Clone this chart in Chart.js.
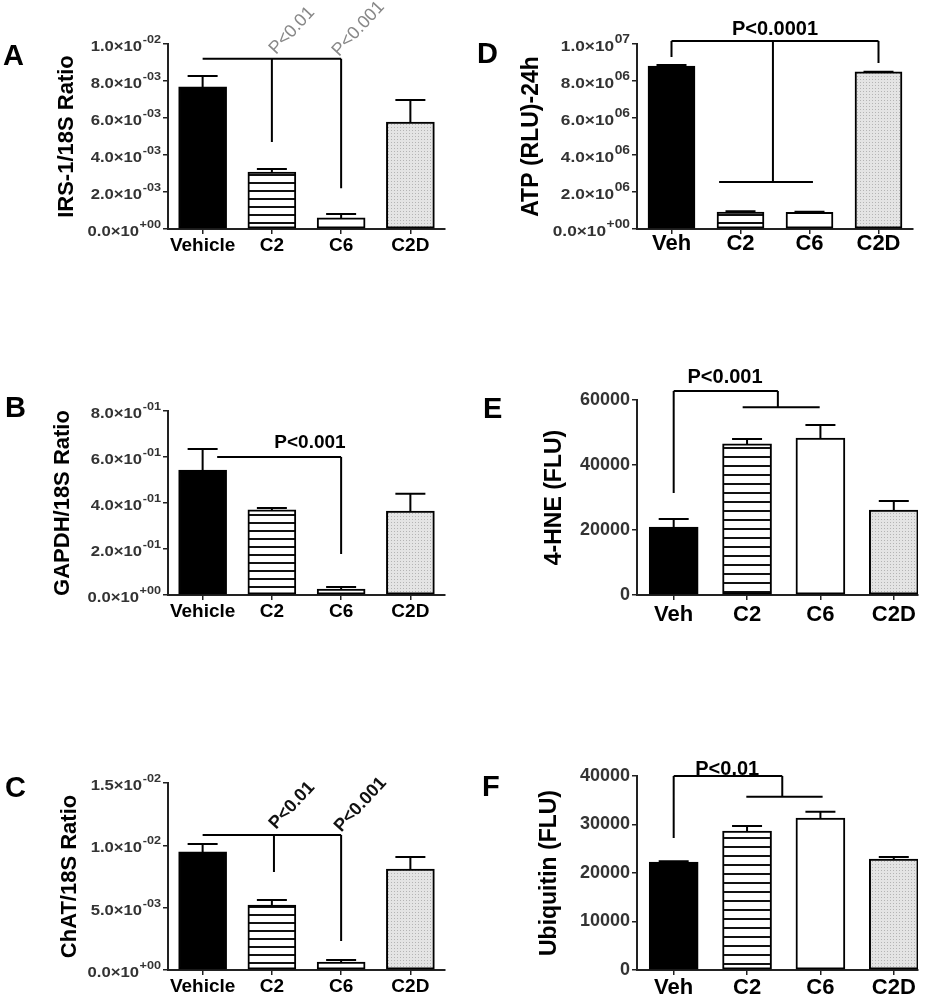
<!DOCTYPE html>
<html>
<head>
<meta charset="utf-8">
<script src="https://cdn.jsdelivr.net/npm/chart.js@4.4.1/dist/chart.umd.min.js"></script>
<style>
  html, body { margin: 0; background: #fff; }
  #fig { position: relative; width: 934px; height: 1000px; overflow: hidden; }
  #fig canvas { position: absolute; }
</style>
</head>
<body>
<div id="fig"></div>
<script>
const groupsLong = ['Vehicle', 'C2', 'C6', 'C2D'];
const groupsShort = ['Veh', 'C2', 'C6', 'C2D'];

// A
const irsMean = [0.00768, 0.00308, 0.00060, 0.00578];
const irsErr = [0.00059, 0.00016, 0.00021, 0.00119];
const irsTicks = ['0.0×10^+00', '2.0×10^-03', '4.0×10^-03', '6.0×10^-03', '8.0×10^-03', '1.0×10^-02'];
const irsBrackets = [[0, 0.0092, 2, 0.0092], [1, 0.0092, 1, 0.0047], [2, 0.0092, 2, 0.0022]];
const irsNotes = [['P<0.01', 1.06, 0.0094], ['P<0.001', 1.97, 0.0093]];

// B
const gapdhMean = [0.543, 0.370, 0.026, 0.365];
const gapdhErr = [0.092, 0.008, 0.009, 0.075];
const gapdhTicks = ['0.0×10^+00', '2.0×10^-01', '4.0×10^-01', '6.0×10^-01', '8.0×10^-01'];
const gapdhBrackets = [[0.21, 0.6, 2, 0.6], [2, 0.6, 2, 0.178]];
const gapdhNotes = [['P<0.001', 1.55, 0.639]];

// C
const chatMean = [0.00947, 0.00521, 0.00064, 0.0081];
const chatErr = [0.00063, 0.0004, 0.00016, 0.00096];
const chatTicks = ['0.0×10^+00', '5.0×10^-03', '1.0×10^-02', '1.5×10^-02'];
const chatBrackets = [[0, 0.01083, 2, 0.01083], [1.03, 0.01083, 1.03, 0.00786], [2, 0.01083, 2, 0.00233]];
const chatNotes = [['P<0.01', 1.06, 0.01123], ['P<0.001', 2.0, 0.0110]];

// D
const atpMean = [8810000, 920000, 900000, 8490000];
const atpErr = [50000, 40000, 30000, 10000];
const atpTicks = ['0.0×10^+00', '2.0×10^06', '4.0×10^06', '6.0×10^06', '8.0×10^06', '1.0×10^07'];
const atpBrackets = [[0, 1.016e7, 3, 1.016e7], [0, 1.016e7, 0, 9.3e6], [3, 1.016e7, 3, 8.97e6],
  [1.47, 1.016e7, 1.47, 2.54e6], [0.69, 2.54e6, 2.05, 2.54e6]];
const atpNotes = [['P<0.0001', 1.5, 1.049e7]];

// E
const hneMean = [20900, 46500, 48300, 26100];
const hneErr = [2500, 1500, 4000, 2800];
const hneTicks = ['0', '20000', '40000', '60000'];
const hneBrackets = [[0, 31400, 0, 62800], [0, 62800, 1.42, 62800], [1.42, 62800, 1.42, 57800], [0.94, 57800, 1.99, 57800]];
const hneNotes = [['P<0.001', 0.7, 65230]];

// F
const ubqMean = [22270, 28660, 31340, 22890];
const ubqErr = [150, 1050, 1300, 400];
const ubqTicks = ['0', '10000', '20000', '30000', '40000'];
const ubqBrackets = [[0, 27200, 0, 40000], [0, 40000, 1.48, 40000], [1.48, 40000, 1.48, 35700], [0.99, 35700, 2.03, 35700]];
const ubqNotes = [['P<0.01', 0.73, 40200]];

const FONT = "'Liberation Sans', Arial, Helvetica, sans-serif";

const panels = [
  { letter: 'A', left: 0, top: 0, w: 460, h: 270, pad: [54, 44, 15], yW: 114, xH: 41, xMax: 3.5, bar: 48,
    title: 'IRS-1/18S Ratio', titleSize: 22, tickSize: 14.5, expSize: 11, labelSize: 19, labelPad: 0, letterAt: [3, 65],
    cats: groupsLong, mean: irsMean, err: irsErr, ticks: irsTicks, yMax: 0.01, step: 0.002,
    brackets: irsBrackets, notes: irsNotes, noteRot: -47, noteFont: '18px ' + FONT, noteColor: '#888', stripe: 8 },
  { letter: 'B', left: 0, top: 380, w: 460, h: 255, pad: [50, 31, 15], yW: 118, xH: 40, xMax: 3.5, bar: 48,
    title: 'GAPDH/18S Ratio', titleSize: 22, tickSize: 14.5, expSize: 11, labelSize: 19, labelPad: 0, letterAt: [5, 37],
    cats: groupsLong, mean: gapdhMean, err: gapdhErr, ticks: gapdhTicks, yMax: 0.8, step: 0.2,
    brackets: gapdhBrackets, notes: gapdhNotes, noteRot: 0, noteFont: 'bold 19px ' + FONT, noteColor: '#000', stripe: 8 },
  { letter: 'C', left: 0, top: 740, w: 460, h: 260, pad: [57, 43, 15], yW: 111, xH: 30, xMax: 3.5, bar: 48,
    title: 'ChAT/18S Ratio', titleSize: 22, tickSize: 14.5, expSize: 11, labelSize: 19, labelPad: 0, letterAt: [5, 57],
    cats: groupsLong, mean: chatMean, err: chatErr, ticks: chatTicks, yMax: 0.015, step: 0.005,
    brackets: chatBrackets, notes: chatNotes, noteRot: -47, noteFont: 'bold 18px ' + FONT, noteColor: '#111', stripe: 8 },
  { letter: 'D', left: 460, top: 0, w: 474, h: 270, pad: [58, 44, 21], yW: 119, xH: 41, xMax: 3.5, bar: 47,
    title: 'ATP (RLU)-24h', titleSize: 23, tickSize: 15, expSize: 12, labelSize: 22, labelPad: -3, letterAt: [17, 63],
    cats: groupsShort, mean: atpMean, err: atpErr, ticks: atpTicks, yMax: 1e7, step: 2e6,
    brackets: atpBrackets, notes: atpNotes, noteRot: 0, noteFont: 'bold 20px ' + FONT, noteColor: '#000', stripe: 8 },
  { letter: 'E', left: 460, top: 350, w: 474, h: 290, pad: [81, 50, 16], yW: 96, xH: 45, xMax: 3.33, bar: 49,
    title: '4-HNE (FLU)', titleSize: 23, tickSize: 18, expSize: 12, labelSize: 22, labelPad: 2, letterAt: [23, 68],
    cats: groupsShort, mean: hneMean, err: hneErr, ticks: hneTicks, yMax: 60000, step: 20000,
    brackets: hneBrackets, notes: hneNotes, noteRot: 0, noteFont: 'bold 20px ' + FONT, noteColor: '#000', stripe: 9 },
  { letter: 'F', left: 460, top: 740, w: 474, h: 260, pad: [76, 36, 16], yW: 101, xH: 30, xMax: 3.33, bar: 49,
    title: 'Ubiquitin (FLU)', titleSize: 23, tickSize: 18, expSize: 12, labelSize: 22, labelPad: 0, letterAt: [22, 56],
    cats: groupsShort, mean: ubqMean, err: ubqErr, ticks: ubqTicks, yMax: 40000, step: 10000,
    brackets: ubqBrackets, notes: ubqNotes, noteRot: 0, noteFont: 'bold 20px ' + FONT, noteColor: '#000', stripe: 9 },
];

function stripePattern(ctx, size) {
  const t = document.createElement('canvas');
  t.width = 8; t.height = size;
  const g = t.getContext('2d');
  g.fillStyle = '#fff'; g.fillRect(0, 0, 8, size);
  g.fillStyle = '#111'; g.fillRect(0, size - 2, 8, 2);
  return ctx.createPattern(t, 'repeat');
}

function dotPattern(ctx) {
  const t = document.createElement('canvas');
  t.width = 3; t.height = 3;
  const g = t.getContext('2d');
  g.fillStyle = '#e4e4e4'; g.fillRect(0, 0, 3, 3);
  g.fillStyle = '#b4b4b4'; g.fillRect(1, 1, 1, 1);
  return ctx.createPattern(t, 'repeat');
}

// error bars, brackets, p-value notes, scientific tick labels and panel letter
function marks(p) {
  return {
    id: 'marks' + p.letter,
    afterDatasetsDraw(chart) {
      const { ctx, scales: { x, y } } = chart;
      const px = (v) => x.getPixelForValue(v);
      const py = (v) => y.getPixelForValue(v);
      ctx.save();
      ctx.strokeStyle = '#000';
      ctx.lineWidth = 2;
      ctx.beginPath();
      chart.getDatasetMeta(0).data.forEach((bar, i) => {
        const top = py(p.mean[i] + p.err[i]);
        ctx.moveTo(bar.x, bar.y);
        ctx.lineTo(bar.x, top);
        ctx.moveTo(bar.x - 15, top);
        ctx.lineTo(bar.x + 15, top);
      });
      p.brackets.forEach(([x1, y1, x2, y2]) => {
        ctx.moveTo(px(x1), py(y1));
        ctx.lineTo(px(x2), py(y2));
      });
      ctx.stroke();

      p.notes.forEach(([text, nx, ny]) => {
        ctx.save();
        ctx.translate(px(nx), py(ny));
        ctx.rotate(p.noteRot * Math.PI / 180);
        ctx.font = p.noteFont;
        ctx.fillStyle = p.noteColor;
        ctx.textAlign = p.noteRot ? 'left' : 'center';
        ctx.textBaseline = 'alphabetic';
        ctx.fillText(text, 0, 0);
        ctx.restore();
      });

      // labels like 8.0×10^-03 : mantissa plus raised exponent
      y.ticks.forEach((t, i) => {
        const lab = p.ticks[i];
        if (!lab || !lab.includes('^')) return;
        const [base, exp] = lab.split('^');
        ctx.save();
        ctx.translate(chart.chartArea.left - 7, py(t.value));
        ctx.scale(1.15, 1);
        ctx.fillStyle = '#333';
        ctx.textAlign = 'right';
        ctx.textBaseline = 'alphabetic';
        ctx.font = 'bold ' + p.expSize + 'px ' + FONT;
        const ew = ctx.measureText(exp).width;
        ctx.fillText(exp, 0, -1);
        ctx.font = 'bold ' + p.tickSize + 'px ' + FONT;
        ctx.fillText(base, -ew - 0.5, 7);
        ctx.restore();
      });

      ctx.font = 'bold 29px ' + FONT;
      ctx.fillStyle = '#000';
      ctx.textAlign = 'left';
      ctx.textBaseline = 'alphabetic';
      ctx.fillText(p.letter, p.letterAt[0], p.letterAt[1]);
      ctx.restore();
    }
  };
}

const fig = document.getElementById('fig');

panels.forEach((p) => {
  const canvas = document.createElement('canvas');
  canvas.width = p.w;
  canvas.height = p.h;
  canvas.style.left = p.left + 'px';
  canvas.style.top = p.top + 'px';
  fig.appendChild(canvas);
  const ctx = canvas.getContext('2d');

  const fills = ['#000', stripePattern(ctx, p.stripe), '#fff', dotPattern(ctx)];
  const tickGrid = { display: true, offset: false, drawOnChartArea: false, drawTicks: true, tickLength: 5, lineWidth: 1.5, color: '#222' };
  const axisBorder = { display: true, color: '#222', width: 2 };

  new Chart(canvas, {
    type: 'bar',
    data: {
      datasets: [{
        data: p.mean.map((v, i) => ({ x: i, y: v })),
        backgroundColor: fills,
        borderColor: '#000',
        borderWidth: 2,
        borderSkipped: false,
        barThickness: p.bar,
      }],
    },
    options: {
      responsive: false,
      animation: false,
      events: [],
      layout: { padding: { left: p.pad[0], top: p.pad[1], right: p.pad[2], bottom: 0 } },
      plugins: { legend: { display: false }, tooltip: { enabled: false } },
      scales: {
        x: {
          type: 'linear',
          offset: false,
          min: -0.5,
          max: p.xMax,
          afterBuildTicks: (s) => { s.ticks = p.cats.map((c, i) => ({ value: i })); },
          afterFit: (s) => { s.height = p.xH; },
          grid: tickGrid,
          border: axisBorder,
          ticks: {
            autoSkip: false,
            maxRotation: 0,
            padding: p.labelPad,
            color: '#000',
            font: { family: FONT, size: p.labelSize, weight: 'bold' },
            callback: (v) => p.cats[v],
          },
        },
        y: {
          min: 0,
          max: p.yMax,
          afterBuildTicks: (s) => { s.ticks = p.ticks.map((t, i) => ({ value: i * p.step })); },
          afterFit: (s) => { s.width = p.yW; },
          title: {
            display: true,
            text: p.title,
            padding: 0,
            color: '#000',
            font: { family: FONT, size: p.titleSize, weight: 'bold' },
          },
          grid: tickGrid,
          border: axisBorder,
          ticks: {
            padding: 2,
            color: '#333',
            font: { family: FONT, size: p.tickSize, weight: 'bold' },
            callback: (v, i) => (p.ticks[i].includes('^') ? '' : p.ticks[i]),
          },
        },
      },
    },
    plugins: [marks(p)],
  });
});
</script>
</body>
</html>
